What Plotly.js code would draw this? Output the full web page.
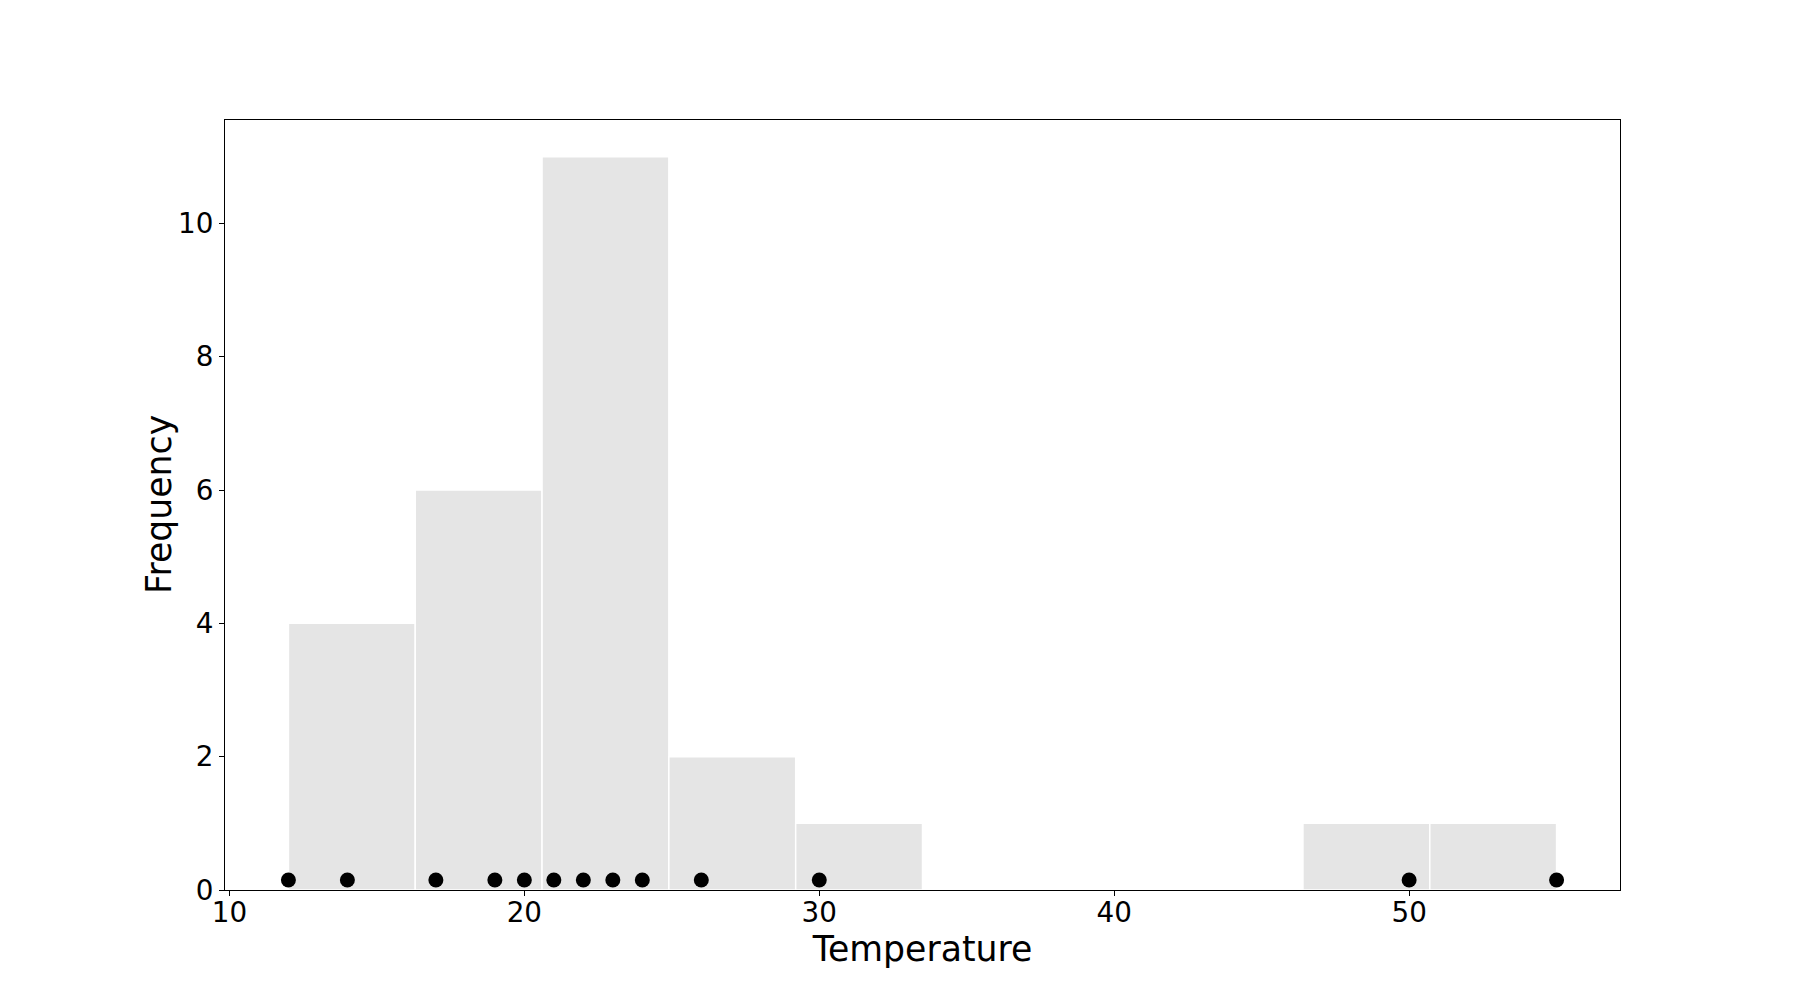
<!DOCTYPE html>
<html>
<head>
<meta charset="utf-8">
<script src="https://cdn.plot.ly/plotly-3.0.1.min.js"></script>
<style>html,body{margin:0;padding:0;background:#fff;}</style>
</head>
<body>
<div id="chart" style="width:1800px;height:1000px;"></div>
<script>
// Histogram bins (width 4.3, from 12 to 55)
const binCenters = [14.15, 18.45, 22.75, 27.05, 31.35, 35.65, 39.95, 44.25, 48.55, 52.85];
const binCounts  = [4, 6, 11, 2, 1, 0, 0, 0, 1, 1];
const binWidth = 4.3;
// Rug points of the observed temperatures
const tempValues = [12, 14, 17, 19, 20, 21, 22, 23, 24, 26, 30, 50, 55];
const rugLevel   = [0.15, 0.15, 0.15, 0.15, 0.15, 0.15, 0.15, 0.15, 0.15, 0.15, 0.15, 0.15, 0.15];
const xTicks = [10, 20, 30, 40, 50];
const yTicks = [0, 2, 4, 6, 8, 10];

const font = "DejaVu Sans, sans-serif";

const traces = [
  {
    type: 'bar',
    x: binCenters,
    y: binCounts,
    width: binCenters.map(() => binWidth),
    marker: {color: '#e5e5e5', line: {color: '#ffffff', width: 1.5}},
    hoverinfo: 'x+y',
    showlegend: false
  },
  {
    type: 'scatter',
    mode: 'markers',
    x: tempValues,
    y: rugLevel,
    marker: {color: '#000000', size: 15},
    showlegend: false,
    cliponaxis: false
  }
];

const plotL = 225, plotW = 1395;

const layout = {
  width: 1800,
  height: 1000,
  margin: {l: plotL, r: 180, t: 120, b: 110, pad: 0},
  paper_bgcolor: '#ffffff',
  plot_bgcolor: '#ffffff',
  bargap: 0,
  font: {family: font, color: '#000000'},
  xaxis: {
    range: [9.85, 57.15],
    tickmode: 'array',
    tickvals: xTicks,
    ticktext: xTicks.map(String),
    ticks: 'outside',
    ticklen: 5,
    tickwidth: 1,
    tickcolor: '#000',
    ticklabelstandoff: -7,
    tickfont: {family: font, size: 27.8, color: '#000'},
    showgrid: false,
    zeroline: false,
    showline: true,
    linecolor: '#000',
    linewidth: 1,
    mirror: true,
    title: {text: 'Temperature', font: {family: font, size: 34.7, color: '#000'}, standoff: 0}
  },
  yaxis: {
    range: [0, 11.55],
    tickmode: 'array',
    tickvals: yTicks,
    ticktext: yTicks.map(String),
    ticks: 'outside',
    ticklen: 5,
    tickwidth: 1,
    tickcolor: '#000',
    tickfont: {family: font, size: 27.8, color: '#000'},
    showgrid: false,
    zeroline: false,
    showline: true,
    linecolor: '#000',
    linewidth: 1,
    mirror: true
  },
  annotations: [{
    text: 'Frequency',
    xref: 'paper', yref: 'paper',
    x: (159 - plotL) / plotW, y: 0.5,
    xanchor: 'center', yanchor: 'middle',
    textangle: -90,
    showarrow: false,
    font: {family: font, size: 34.7, color: '#000'}
  }]
};

Plotly.newPlot('chart', traces, layout, {displayModeBar: false, staticPlot: true});
</script>
</body>
</html>
